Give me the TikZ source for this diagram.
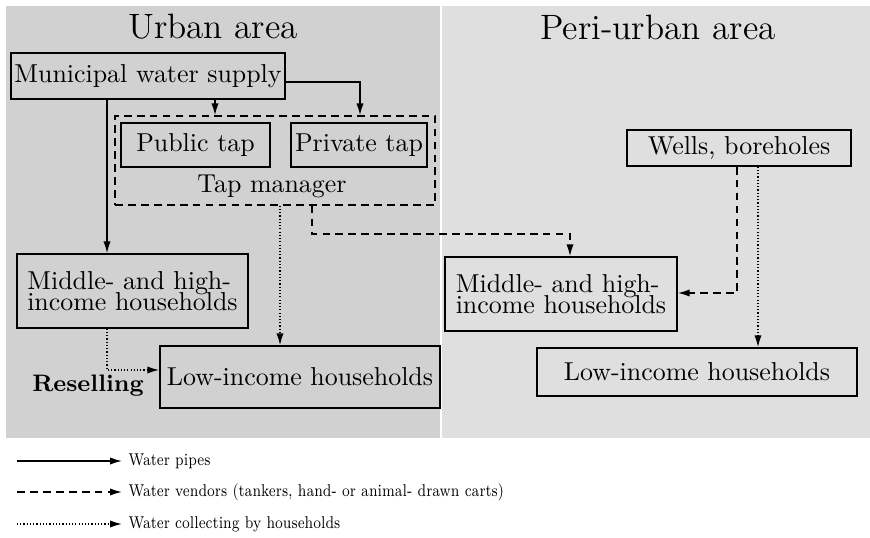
\documentclass[tikz,border=0pt]{standalone}
\usepackage{graphicx}
\usetikzlibrary{arrows.meta}
\definecolor{urbanbg}{RGB}{208,209,208}
\definecolor{peribg}{RGB}{223,223,223}
\def\px{0.386pt}
\newcommand\boxfont{\fontsize{10}{7.9}\selectfont\lineskiplimit=-20pt\relax}
\tikzset{
  box/.style={draw, line width=0.6pt, inner sep=0pt, font=\boxfont},
  arr/.style={line width=0.6pt, -{Latex[length=4.6pt,width=2.8pt]}},
  pipe/.style={arr},
  vendor/.style={arr, dash pattern=on 3pt off 2pt},
  collect/.style={arr, dash pattern=on 0.45pt off 0.8pt},
  title/.style={font=\fontsize{13.6}{16}\selectfont, inner sep=0pt},
  legtext/.style={font=\fontsize{6.6}{7.5}\selectfont, anchor=west, inner sep=0pt},
}
\newcommand\legscale[1]{\scalebox{0.80}[1]{#1}}
\begin{document}
\begin{tikzpicture}[x=0.386pt, y=-0.386pt]
\useasboundingbox (0,0) rectangle (870,538);
\fill[white] (0,0) rectangle (870,538);
\fill[urbanbg] (6,6) rectangle (440,438);
\fill[peribg] (442,6) rectangle (870,438);
\node[title] (turban) at (213,27) {Urban area};
\node[title] (tperi) at (658,27) {Peri-urban area};
% boxes
\node[box, minimum width=274*\px, minimum height=46*\px] (mws) at (148,76) {Municipal water supply};
\node[draw, line width=0.5pt, dash pattern=on 3pt off 2pt, minimum width=320*\px, minimum height=89*\px, inner sep=0pt] (tap) at (275,160.5) {};
\node[box, minimum width=149*\px, minimum height=44*\px] (pub) at (195.5,145) {Public tap};
\node[box, minimum width=136*\px, minimum height=44*\px] (priv) at (359,145) {Private tap};
\node[font=\fontsize{10}{12}\selectfont, inner sep=0pt] (tapm) at (272,186) {Tap manager};
\node[box, minimum width=231*\px, minimum height=74*\px, align=left] (midU) at (132.5,291) {Middle- and high-\\income households};
\node[box, minimum width=280*\px, minimum height=62*\px] (lowU) at (300,377) {Low-income households};
\node[font=\fontsize{9.2}{11}\selectfont\bfseries, inner sep=0pt] (resell) at (88,386) {Reselling};
\node[box, minimum width=224*\px, minimum height=36*\px] (wells) at (739,148) {Wells, boreholes};
\node[box, minimum width=232*\px, minimum height=74*\px, align=left] (midP) at (561,294) {Middle- and high-\\income households};
\node[box, minimum width=320*\px, minimum height=48*\px] (lowP) at (697,372) {Low-income households};
% connectors
\draw[pipe] (215,0 |- mws.south) -- (215,0 |- tap.north);
\draw[pipe] (mws.east |- 0,82) -| (360,0 |- tap.north);
\draw[pipe] (107,0 |- mws.south) -- (107,0 |- midU.north);
\draw[collect] (280,0 |- tap.south) -- (280,0 |- lowU.north);
\coordinate (v1) at (312,234);
\draw[vendor] (312,0 |- tap.south) -- (v1) -| (570,0 |- midP.north);
\draw[collect] (107,0 |- midU.south) |- (lowU.west |- 0,370);
\draw[vendor] (737,0 |- wells.south) |- (midP.east |- 0,293);
\draw[collect] (758,0 |- wells.south) -- (758,0 |- lowP.north);
% legend
\coordinate (l1a) at (17,461); \coordinate (l1b) at (122,461);
\coordinate (l2a) at (17,492); \coordinate (l2b) at (122,492);
\coordinate (l3a) at (17,524); \coordinate (l3b) at (122,524);
\draw[pipe] (l1a) -- (l1b);
\draw[vendor] (l2a) -- (l2b);
\draw[collect] (l3a) -- (l3b);
\node[legtext] (lt1) at (128,461) {\legscale{Water pipes}};
\node[legtext] (lt2) at (128,492) {\legscale{Water vendors (tankers, hand- or animal- drawn carts)}};
\node[legtext] (lt3) at (128,524) {\legscale{Water collecting by households}};
\end{tikzpicture}
\end{document}
